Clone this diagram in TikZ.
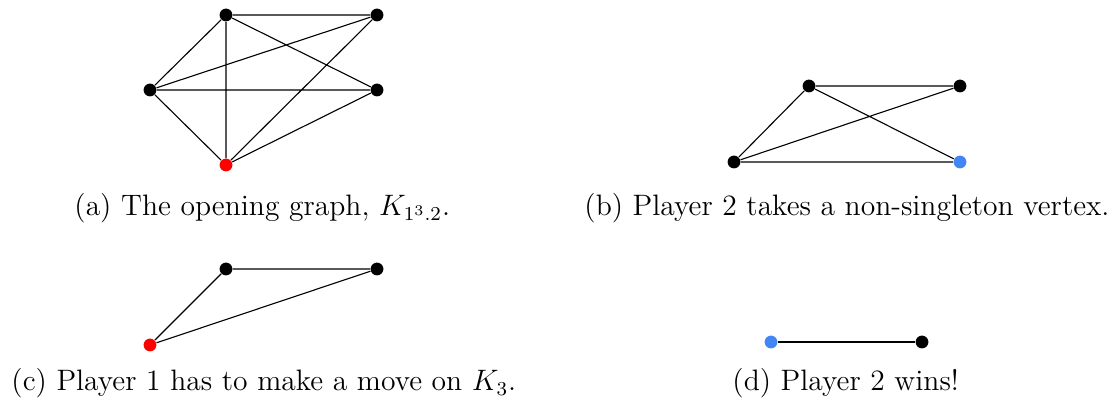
\documentclass[tikz,border=0pt]{standalone}
\definecolor{pblue}{RGB}{66,133,244}
\begin{document}
\begin{tikzpicture}[x=0.406pt,y=-0.406pt,
  vtx/.style={circle,fill=black,inner sep=0pt,minimum size=5.2pt},
  redv/.style={vtx,fill=red},
  bluev/.style={vtx,fill=pblue},
  gedge/.style={line width=0.45pt},
  captext/.style={anchor=base west,inner sep=0pt,font=\fontsize{12}{14}\selectfont}]
\useasboundingbox (0,0) rectangle (1118,402);
% (a)
\node[vtx] (a1) at (226,15) {};
\node[vtx] (a2) at (377,15) {};
\node[vtx] (a3) at (150,90) {};
\node[vtx] (a4) at (377,90) {};
\node[redv] (a5) at (226,165) {};
\draw[gedge] (a1)--(a2) (a1)--(a3) (a1)--(a4) (a1)--(a5)
  (a2)--(a3) (a2)--(a5) (a3)--(a4) (a3)--(a5) (a4)--(a5);
\node[captext] (ca) at (74,216) {(a) The opening graph, $K_{1^3.2}$.};
% (b)
\node[vtx] (b1) at (809,86) {};
\node[vtx] (b2) at (960,86) {};
\node[vtx] (b3) at (734,162) {};
\node[bluev] (b4) at (960,162) {};
\draw[gedge] (b1)--(b2) (b1)--(b3) (b1)--(b4) (b3)--(b2) (b3)--(b4);
\node[captext] (cb) at (584,216) {(b) Player 2 takes a non-singleton vertex.};
% (c)
\node[vtx] (c1) at (226,269) {};
\node[vtx] (c2) at (377,269) {};
\node[redv] (c3) at (150,345) {};
\draw[gedge] (c1)--(c2) (c1)--(c3) (c2)--(c3);
\node[captext] (cc) at (11,391) {(c) Player 1 has to make a move on $K_3$.};
% (d)
\node[bluev] (d1) at (771,342) {};
\node[vtx] (d2) at (922,342) {};
\draw[gedge] (d1)--(d2);
\node[captext] (cd) at (732,391) {(d) Player 2 wins!};
\end{tikzpicture}
\end{document}
